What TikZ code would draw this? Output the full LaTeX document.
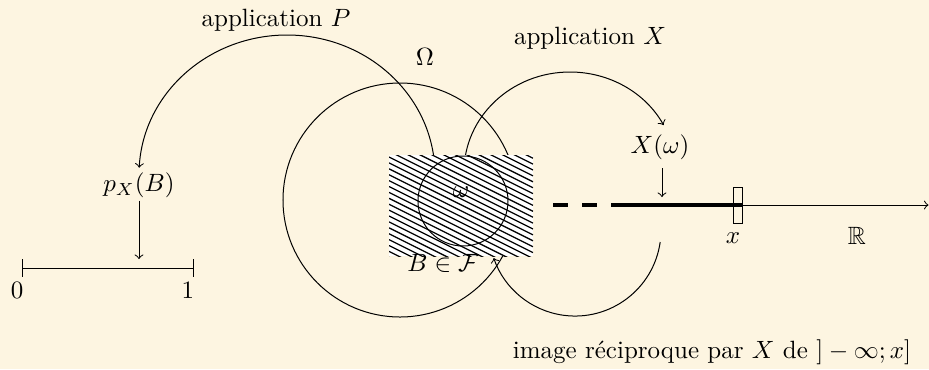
\documentclass[tikz,border=0pt]{standalone}
\usepackage{amssymb}
\definecolor{bgcream}{RGB}{253,245,225}
\begin{document}
\begin{tikzpicture}[x=0.4pt,y=-0.4pt,
  thinline/.style={line width=0.4pt,black},
  hatchline/.style={line width=0.5pt,black},
  lbl/.style={inner sep=1pt},
  axisthick/.style={line width=1.3pt}]
\fill[bgcream] (0,0) rectangle (929,369);
\useasboundingbox (0,0) rectangle (929,369);
% coordinates
\coordinate (omegaC) at (400,200);
\coordinate (smallC) at (463,201);
\coordinate (pStart) at (435,175);
\coordinate (xStart) at (464,172);
\coordinate (lowStart) at (660.2,242);
\coordinate (hatchNW) at (389,155);
\coordinate (hatchSE) at (533,256);
\coordinate (d1a) at (553,205); \coordinate (d1b) at (568,205);
\coordinate (d2a) at (582,205); \coordinate (d2b) at (597,205);
\coordinate (thA) at (611,205); \coordinate (thB) at (742,205);
\coordinate (axEnd) at (928.5,205);
\coordinate (xboxA) at (733,187); \coordinate (xboxB) at (742,223);
\coordinate (iL) at (22,268); \coordinate (iR) at (193,268);
\coordinate (iLt) at (22,259); \coordinate (iLb) at (22,277);
\coordinate (iRt) at (193,259); \coordinate (iRb) at (193,277);
\coordinate (pxArrowEnd) at (139,259);
\coordinate (xwArrowStart) at (662,168);
\coordinate (xwArrowEnd) at (662,197);
% labels
\node[lbl] (appP) at (276,20) {application $P$};
\node[lbl] (Om) at (425,57) {$\Omega$};
\node[lbl] (appX) at (590,38) {application $X$};
\node[lbl] (pxB) at (139,185) {$p_X(B)$};
\node[lbl] (Xw) at (660,147) {$X(\omega)$};
\node[lbl] (zero) at (17,290) {$0$};
\node[lbl] (one) at (188,290) {$1$};
\node[lbl] (xl) at (733,238) {$x$};
\node[lbl] (RR) at (857,236) {$\mathbb{R}$};
\node[lbl] (inv) at (712,352) {image réciproque par $X$ de $]-\infty;x]$};
% big circle and arcs
\draw[thinline] (omegaC) circle[radius=46.8pt];
\draw[thinline,->] (pStart) arc[start angle=0,end angle=177,x radius=59.2pt,y radius=56pt];
\draw[thinline,->] (xStart) arc[start angle=180,end angle=28,x radius=42.4pt,y radius=40pt];
\draw[thinline,->] (lowStart) arc[start angle=-8,end angle=-161,radius=34.4pt];
% hatched set B
\fill[white] (hatchNW) rectangle (hatchSE);
\begin{scope}
\clip (hatchNW) rectangle (hatchSE);
\foreach \k in {-13,...,18}{
  \draw[hatchline] (389,157+\k*5.9) -- (533,229+\k*5.9);
}
\end{scope}
\draw[thinline] (smallC) circle[radius=18pt];
\node[lbl] (w) at (461,192) {$\omega$};
\node[lbl] (BF) at (443,263) {$B\in\mathcal{F}$};
% real line
\draw[axisthick] (d1a) -- (d1b);
\draw[axisthick] (d2a) -- (d2b);
\draw[axisthick] (thA) -- (thB);
\draw[thinline,->] (thB) -- (axEnd);
\draw[thinline] (xboxA) rectangle (xboxB);
\draw[thinline,->] (xwArrowStart) -- (xwArrowEnd);
% interval [0,1]
\draw[thinline] (iL) -- (iR);
\draw[thinline] (iLt) -- (iLb);
\draw[thinline] (iRt) -- (iRb);
\draw[thinline,->] (pxB.south) -- (pxArrowEnd);
\end{tikzpicture}
\end{document}
